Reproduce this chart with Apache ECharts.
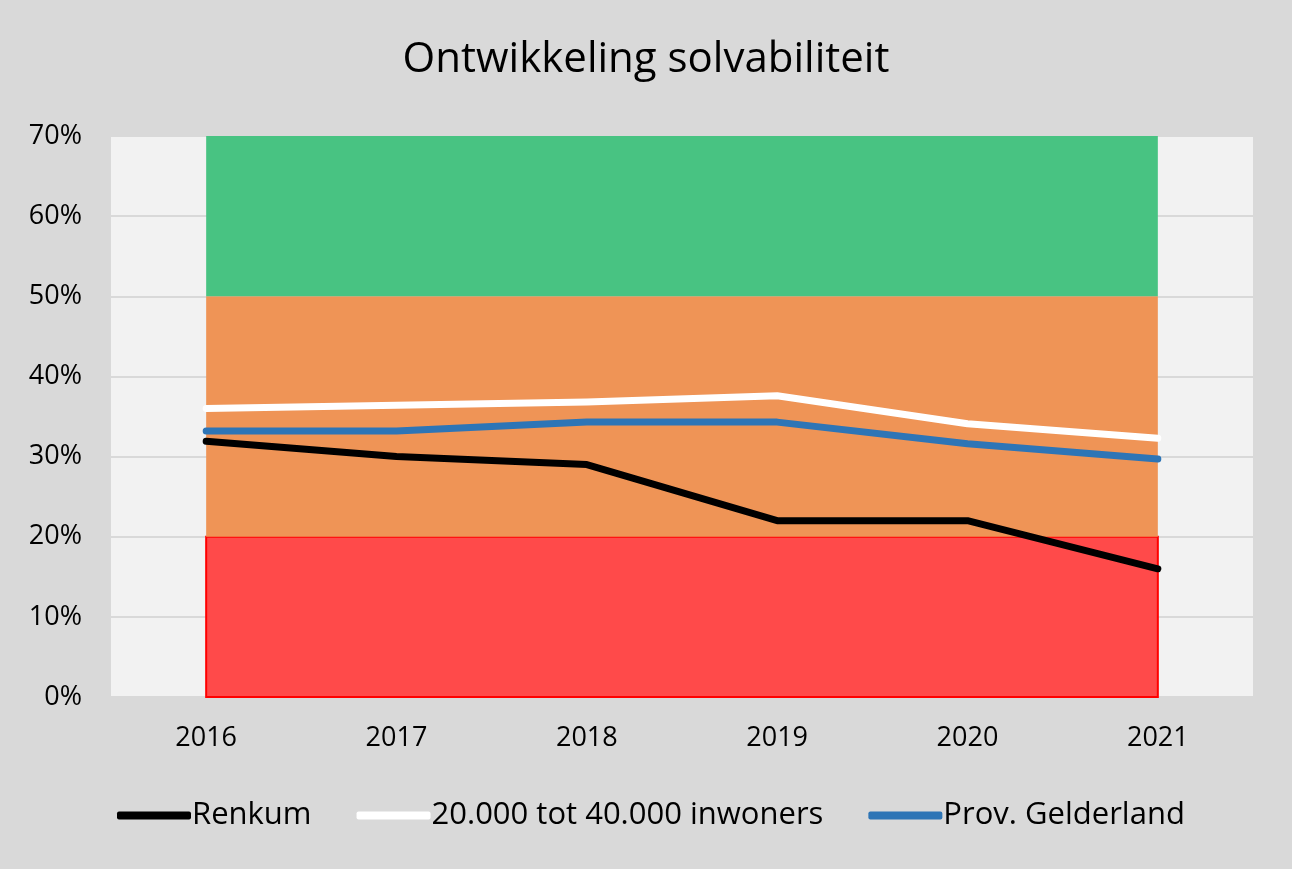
<!DOCTYPE html>
<html>
<head>
<meta charset="utf-8">
<script src="https://cdn.jsdelivr.net/npm/echarts@6/dist/echarts.min.js"></script>
<style>
html,body{margin:0;padding:0;background:#d9d9d9;}
#c{width:1292px;height:869px;}
</style>
</head>
<body>
<div id="c"></div>
<script>
const categories = ['2016', '2017', '2018', '2019', '2020', '2021'];
const renkum = [31.9, 30.0, 29.0, 22.0, 22.0, 16.0];
const gemeenten = [36.0, 36.4, 36.8, 37.6, 34.1, 32.3];
const gelderland = [33.2, 33.2, 34.3, 34.3, 31.6, 29.7];
const seriesNames = ['Renkum', '20.000 tot 40.000 inwoners', 'Prov. Gelderland'];
const bandLow = [0, 20, 50];
const bandHigh = [20, 50, 70];
const yMin = 0, yMax = 70, yStep = 10;

const bandColors = ['#ff4a4a', '#ef9456', '#48c382'];
const bandBorders = ['#ff0000', 'transparent', 'transparent'];

const chart = echarts.init(document.getElementById('c'));
const font = 'Open Sans';

chart.setOption({
  backgroundColor: '#d9d9d9',
  animation: false,
  title: {
    text: 'Ontwikkeling solvabiliteit',
    left: 'center',
    top: 34,
    textStyle: { fontFamily: font, fontSize: 42, fontWeight: 'normal', color: '#000' }
  },
  grid: {
    left: 111, right: 39, top: 136, bottom: 172,
    show: true, backgroundColor: '#f2f2f2', borderWidth: 0
  },
  legend: {
    top: 795,
    left: 112,
    itemWidth: 74,
    itemHeight: 8,
    itemGap: 45,
    icon: 'roundRect',
    data: seriesNames,
    textStyle: { fontFamily: font, fontSize: 31, color: '#000', padding: [0, 0, 0, -4] }
  },
  xAxis: {
    type: 'category',
    data: categories,
    boundaryGap: true,
    axisLine: { show: true, lineStyle: { color: '#d9d9d9', width: 2 } },
    axisTick: { show: false },
    axisLabel: { fontFamily: font, fontSize: 27, color: '#000', margin: 28 }
  },
  yAxis: {
    type: 'value',
    min: yMin, max: yMax, interval: yStep,
    axisLine: { show: false },
    axisTick: { show: false },
    axisLabel: { fontFamily: font, fontSize: 27, color: '#000', margin: 29, formatter: '{value}%' },
    splitLine: { lineStyle: { color: '#d9d9d9', width: 2 } }
  },
  series: [
    {
      type: 'line',
      name: '_bands',
      data: [],
      silent: true,
      z: 1,
      markArea: {
        silent: true,
        data: bandLow.map((lo, i) => [
          { xAxis: categories[0], yAxis: lo, itemStyle: { color: bandColors[i], borderColor: bandBorders[i], borderWidth: i === 0 ? 2 : 0 } },
          { xAxis: categories[categories.length - 1], yAxis: bandHigh[i] }
        ])
      }
    },
    {
      type: 'line', name: seriesNames[0], data: renkum, symbol: 'none', z: 5,
      color: '#000000',
      lineStyle: { color: '#000000', width: 7, cap: 'round', join: 'round' }
    },
    {
      type: 'line', name: seriesNames[1], data: gemeenten, symbol: 'none', z: 5,
      color: '#ffffff',
      lineStyle: { color: '#ffffff', width: 7, cap: 'round', join: 'round' }
    },
    {
      type: 'line', name: seriesNames[2], data: gelderland, symbol: 'none', z: 5,
      color: '#2e75b6',
      lineStyle: { color: '#2e75b6', width: 7, cap: 'round', join: 'round' }
    }
  ]
});
</script>
</body>
</html>
